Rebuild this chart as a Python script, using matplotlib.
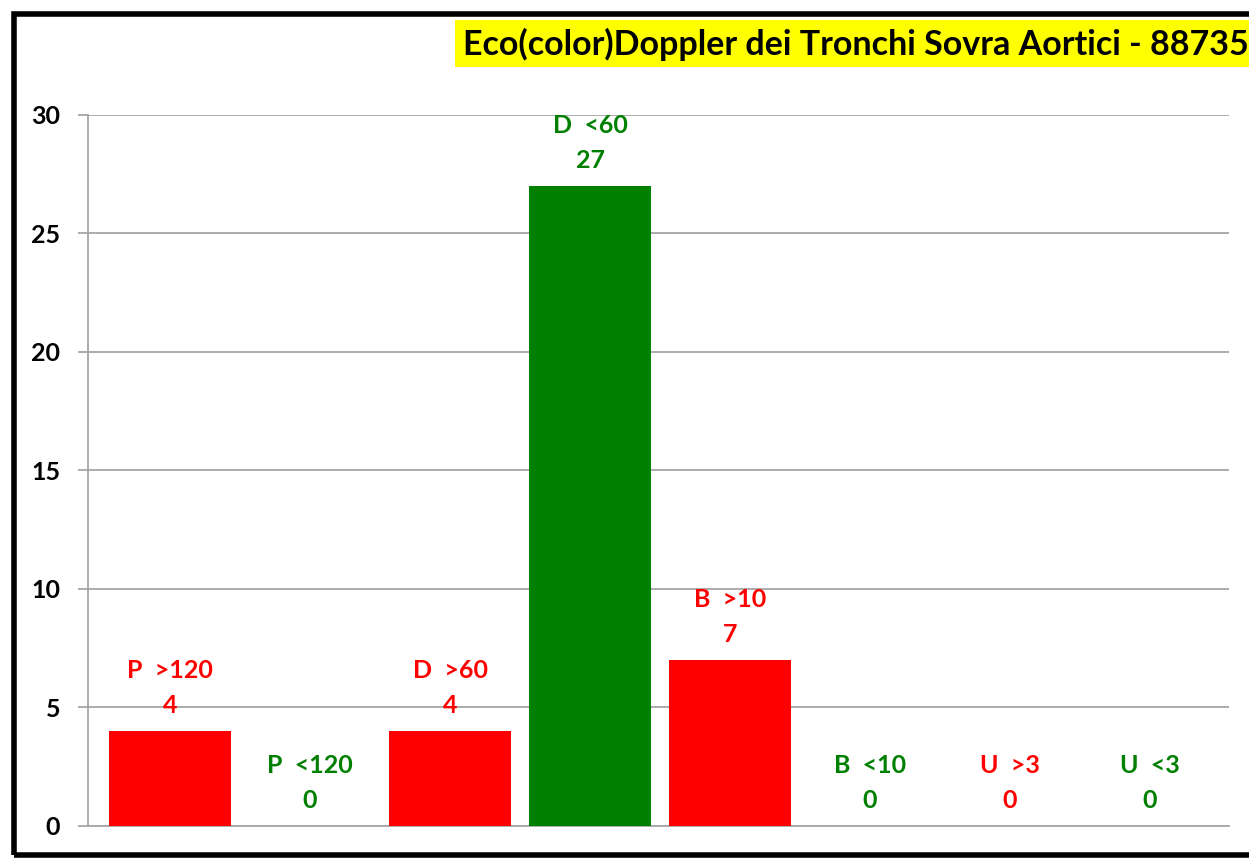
import matplotlib.pyplot as plt
from matplotlib.patches import Rectangle

red = '#FF0000'
green = '#008000'
grid_gray = '#A6A6A6'

categories = ['P  >120', 'P  <120', 'D  >60', 'D  <60', 'B  >10', 'B  <10', 'U  >3', 'U  <3']
values = [4, 0, 4, 27, 7, 0, 0, 0]
colors = [red, green, red, green, red, green, red, green]
title = 'Eco(color)Doppler dei Tronchi Sovra Aortici - 88735'

plt.rcParams['font.family'] = ['Lato', 'DejaVu Sans']
plt.rcParams['font.weight'] = 'bold'

fig = plt.figure(figsize=(12.49, 8.58), dpi=100)
ax = fig.add_axes([0.0705, 0.0373, 0.9135, 0.8287])

x = range(len(categories))
ax.bar(x, values, width=0.87, color=colors, zorder=3)

for i, (name, v, c) in enumerate(zip(categories, values, colors)):
    ax.annotate(name + '\n' + str(v), xy=(i, v), xytext=(0, 10),
                textcoords='offset points', ha='center', va='bottom',
                color=c, fontsize=18, fontweight='bold', linespacing=1.66,
                zorder=4)

ax.set_xlim(-0.586, 7.564)
ax.set_ylim(0, 30)
ax.set_yticks([0, 5, 10, 15, 20, 25, 30])
ax.set_xticks([])
ax.tick_params(axis='y', length=7, width=1.3, color=grid_gray, labelsize=18, pad=13)
for lab in ax.get_yticklabels():
    lab.set_fontweight('bold')
ax.grid(axis='y', color=grid_gray, lw=1.3, zorder=0)
for s in ['top', 'right']:
    ax.spines[s].set_visible(False)
for s in ['left', 'bottom']:
    ax.spines[s].set_color(grid_gray)
    ax.spines[s].set_linewidth(1.3)

# black frame around the chart area
fig.patches.append(Rectangle((14 / 1249, 3 / 858), 1.1, 841 / 858, transform=fig.transFigure,
                             fill=False, edgecolor='black', lw=4, clip_on=False))

# title in a yellow box, running off the right edge
fig.patches.append(Rectangle((455 / 1249, 1 - 67 / 858), 0.7, 47 / 858, transform=fig.transFigure,
                             facecolor='#FFFF00', edgecolor='none'))
fig.text(463 / 1249, 1 - 44 / 858, title, ha='left', va='center', fontsize=24.5,
         fontweight='bold', color='black')

fig.savefig('out.png', dpi=100)
